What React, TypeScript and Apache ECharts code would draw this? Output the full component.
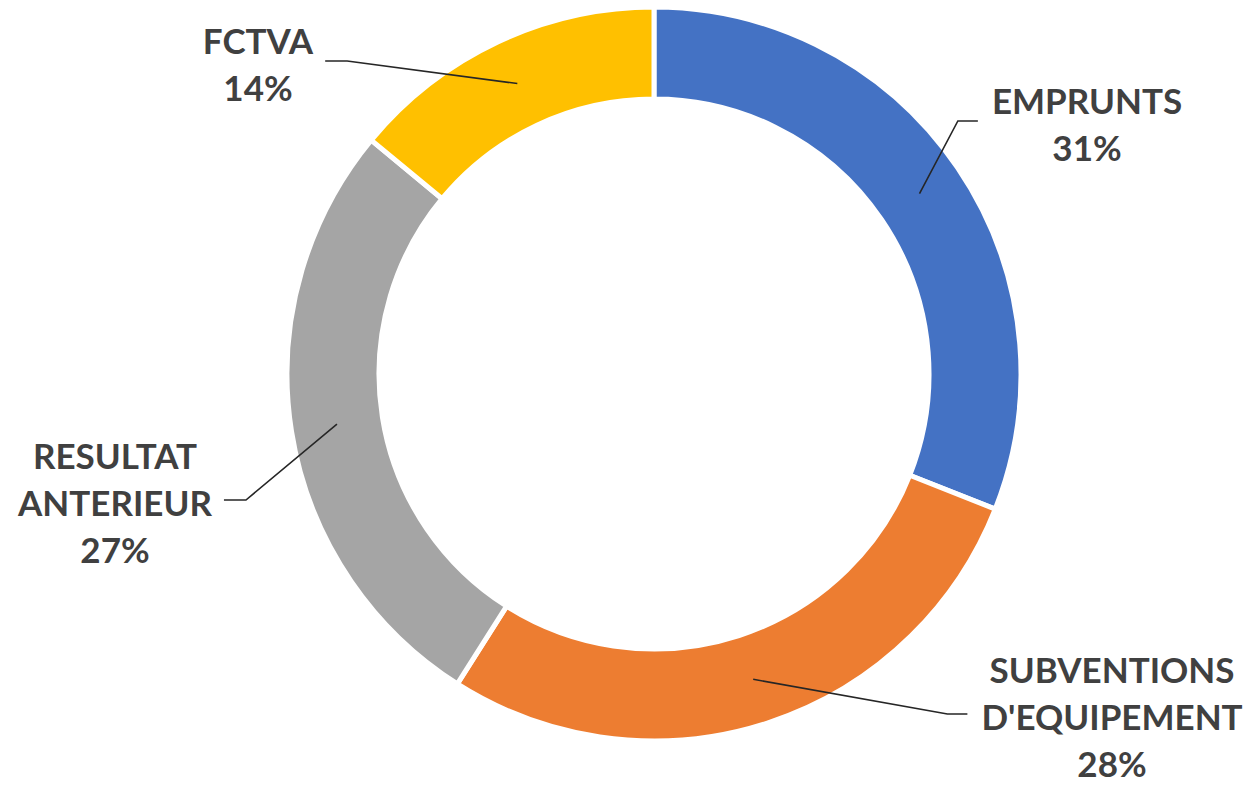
import React, { useEffect, useRef } from "react";
import * as echarts from "echarts";

const categories = ["EMPRUNTS", "SUBVENTIONS D'EQUIPEMENT", "RESULTAT ANTERIEUR", "FCTVA"];
const values = [31, 28, 27, 14];
const colors = ["#4472C4", "#ED7D31", "#A5A5A5", "#FFC000"];

// label block centres (layout only)
const labelCentres: [number, number][] = [
  [1087, 123],
  [1112, 716],
  [115, 502],
  [258, 63],
];

const CENTER: [number, number] = [654, 374];

export default function App() {
  const ref = useRef<HTMLDivElement>(null);

  useEffect(() => {
    if (!ref.current) return;
    const chart = echarts.init(ref.current, undefined, { renderer: "svg" });
    const data = categories.map((name, i) => ({
      name,
      value: values[i],
      itemStyle: { color: colors[i] },
    }));
    const labelData = categories.map((name, i) => ({ name, value: values[i] }));

    chart.setOption({
      animation: false,
      backgroundColor: "#ffffff",
      series: [
        {
          type: "pie",
          center: CENTER,
          radius: [275, 367],
          startAngle: 90,
          clockwise: true,
          silent: true,
          label: { show: false },
          labelLine: { show: false },
          itemStyle: { borderColor: "#ffffff", borderWidth: 5 },
          emphasis: { disabled: true },
          data,
          z: 1,
        },
        {
          type: "pie",
          center: CENTER,
          radius: [320, 321],
          startAngle: 90,
          clockwise: true,
          silent: true,
          avoidLabelOverlap: false,
          itemStyle: { color: "rgba(0,0,0,0)", borderWidth: 0 },
          emphasis: { disabled: true },
          label: {
            show: true,
            position: "outside",
            formatter: (p: any) => `${String(p.name).replace(" ", "\n")}\n${Math.round(p.percent)}%`,
            fontFamily: "Lato",
            fontWeight: "bold",
            fontSize: 35,
            lineHeight: 47,
            color: "#404040",
            align: "center",
          },
          labelLine: {
            show: true,
            length: 10,
            length2: 10,
            lineStyle: { color: "#262626", width: 1.6 },
          },
          labelLayout: (params: any) => {
            const i = params.dataIndex;
            const [x, y] = labelCentres[i];
            const w = params.labelRect.width;
            const rightSide = x > CENTER[0];
            const start = params.labelLinePoints ? params.labelLinePoints[0] : [x, y];
            const endX = rightSide ? x - w / 2 - 14 : x + w / 2 + 12;
            const bendX = rightSide ? endX - 20 : endX + 22;
            return {
              x,
              y,
              align: "center",
              verticalAlign: "middle",
              labelLinePoints: [start, [bendX, y - 2], [endX, y - 2]],
            };
          },
          data: labelData,
          z: 2,
        },
      ],
    });
    return () => chart.dispose();
  }, []);

  return (
    <div
      ref={ref}
      style={{ position: "absolute", left: 0, top: 0, width: 1252, height: 787 }}
    />
  );
}
